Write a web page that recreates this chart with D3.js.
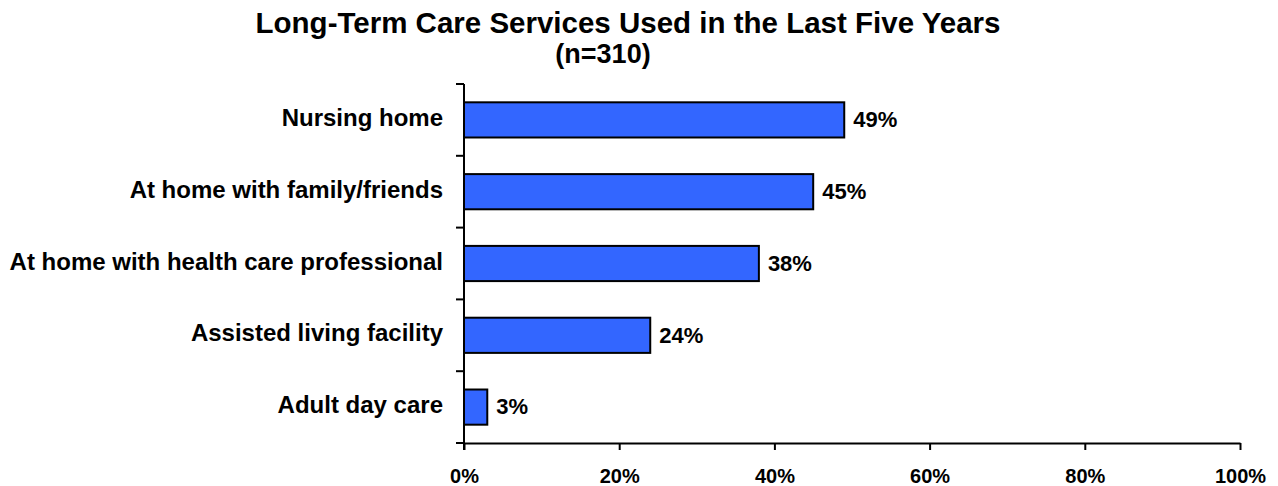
<!DOCTYPE html>
<html>
<head>
<meta charset="utf-8">
<script src="https://cdn.jsdelivr.net/npm/d3@7"></script>
<style>
  html, body { margin: 0; padding: 0; background: #fff; }
  svg { display: block; font-family: Arial, "Liberation Sans", sans-serif; font-weight: bold; }
</style>
</head>
<body>
<svg id="chart" width="1278" height="486"></svg>
<script>
// Long-term care services used in the last five years (share of respondents)
const titleLines = ["Long-Term Care Services Used in the Last Five Years", "(n=310)"];
const categories = [
  "Nursing home",
  "At home with family/friends",
  "At home with health care professional",
  "Assisted living facility",
  "Adult day care"
];
const values = [49, 45, 38, 24, 3];
const xTicks = [0, 20, 40, 60, 80, 100];

const svg = d3.select("#chart");
const margin = { left: 464, right: 38, top: 84, bottom: 43 };
const W = 1278, H = 486;

const x = d3.scaleLinear().domain([0, 100]).range([margin.left, W - margin.right]);
const y = d3.scaleBand().domain(categories).range([margin.top, H - margin.bottom]).paddingInner(0.51).paddingOuter(0.255);

// Title
svg.append("text").attr("x", 628).attr("y", 33).attr("text-anchor", "middle")
  .attr("font-size", 29.5).text(titleLines[0]);
svg.append("text").attr("x", 603).attr("y", 63).attr("text-anchor", "middle")
  .attr("font-size", 27).text(titleLines[1]);

// Bars
svg.append("g").selectAll("rect").data(values).join("rect")
  .attr("x", x(0))
  .attr("y", (d, i) => y(categories[i]))
  .attr("width", d => x(d) - x(0))
  .attr("height", y.bandwidth())
  .attr("fill", "#3366FF")
  .attr("stroke", "#000")
  .attr("stroke-width", 2);

// Value labels
svg.append("g").selectAll("text").data(values).join("text")
  .attr("x", d => x(d) + 9)
  .attr("y", (d, i) => y(categories[i]) + y.bandwidth() / 2)
  .attr("dy", "0.33em")
  .attr("font-size", 22)
  .text(d => d + "%");

// Category labels
svg.append("g").selectAll("text").data(categories).join("text")
  .attr("x", 443)
  .attr("y", d => y(d) + y.bandwidth() / 2)
  .attr("dy", "0.25em")
  .attr("text-anchor", "end")
  .attr("font-size", 24)
  .text(d => d);

// Vertical axis with ticks between categories
const yBounds = d3.range(categories.length + 1).map(i => margin.top + i * (H - margin.top - margin.bottom) / categories.length);
const axisG = svg.append("g").attr("stroke", "#000").attr("stroke-width", 2);
axisG.append("line").attr("x1", x(0)).attr("x2", x(0)).attr("y1", margin.top).attr("y2", H - margin.bottom + 7);
axisG.selectAll("line.yt").data(yBounds).join("line").attr("class", "yt")
  .attr("x1", x(0) - 8).attr("x2", x(0)).attr("y1", d => d).attr("y2", d => d);

// Horizontal axis
const xAxis = d3.axisBottom(x).tickValues(xTicks).tickFormat(d => d + "%").tickSize(7).tickSizeOuter(0);
const xg = svg.append("g").attr("transform", `translate(0,${H - margin.bottom})`).call(xAxis);
xg.select(".domain").attr("stroke", "#000").attr("stroke-width", 2);
xg.selectAll(".tick line").attr("stroke", "#000").attr("stroke-width", 2);
xg.selectAll(".tick text").attr("font-size", 20).attr("font-family", "Arial, 'Liberation Sans', sans-serif")
  .attr("font-weight", "bold").attr("fill", "#000").attr("y", 25.5).attr("dy", "0.71em");
</script>
</body>
</html>
